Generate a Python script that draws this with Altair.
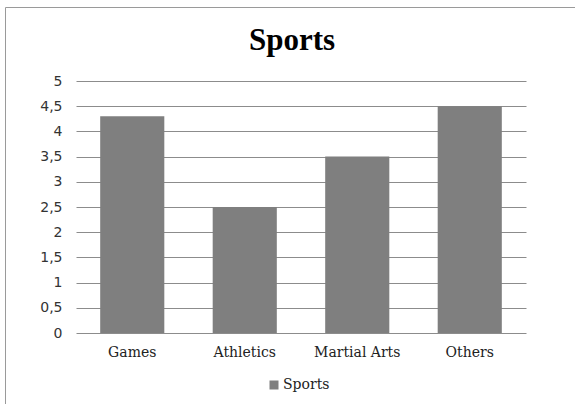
import altair as alt
import pandas as pd

categories = ["Games", "Athletics", "Martial Arts", "Others"]
values = [4.3, 2.5, 3.5, 4.5]
series = ["Sports", "Sports", "Sports", "Sports"]
y_ticks = [0, 0.5, 1, 1.5, 2, 2.5, 3, 3.5, 4, 4.5, 5]

df = pd.DataFrame({"category": categories, "value": values, "series": series})

bars = alt.Chart(df).mark_bar(color="#7f7f7f").encode(
    x=alt.X("category:N", sort=categories, title=None,
            scale=alt.Scale(paddingInner=0.43, paddingOuter=0.215),
            axis=alt.Axis(labelAngle=0, domain=False, ticks=False, grid=False,
                          labelFont="DejaVu Serif", labelFontSize=14,
                          labelColor="#222222", labelPadding=12)),
    y=alt.Y("value:Q", title=None,
            scale=alt.Scale(domain=[0, 5], nice=False),
            axis=alt.Axis(values=y_ticks, domain=False, ticks=False,
                          gridColor="#8c8c8c", gridWidth=1,
                          labelFont="DejaVu Sans", labelFontSize=14,
                          labelColor="#333333", labelPadding=14,
                          labelExpr="replace(format(datum.value, '~g'), '.', ',')")),
    color=alt.Color("series:N", scale=alt.Scale(range=["#7f7f7f"]),
                    legend=alt.Legend(title=None, orient="none", legendX=191, legendY=297,
                                      symbolType="square", symbolSize=81,
                                      symbolStrokeWidth=0, labelOffset=2,
                                      labelFont="DejaVu Serif", labelFontSize=14,
                                      labelColor="#222222")),
)

border = alt.Chart(pd.DataFrame({"a": [0]})).mark_rect(
    fillOpacity=0, stroke="#9a9a9a", strokeWidth=1
).encode(
    x=alt.value(-70.5), y=alt.value(-73.5), x2=alt.value(620), y2=alt.value(420)
)

chart = alt.layer(border, bars).properties(
    width=450,
    height=252,
    title=alt.TitleParams("Sports", font="Liberation Serif", fontSize=31,
                          fontWeight="bold", color="#000000", anchor="middle",
                          frame="group", baseline="alphabetic", offset=-74, dx=-9),
    autosize=alt.AutoSizeParams(type="none"),
    padding={"left": 76, "top": 81, "right": 49, "bottom": 71},
    background="white",
).configure_view(stroke=None)

chart.save("out.html", embed_options={"renderer": "svg", "actions": False})
